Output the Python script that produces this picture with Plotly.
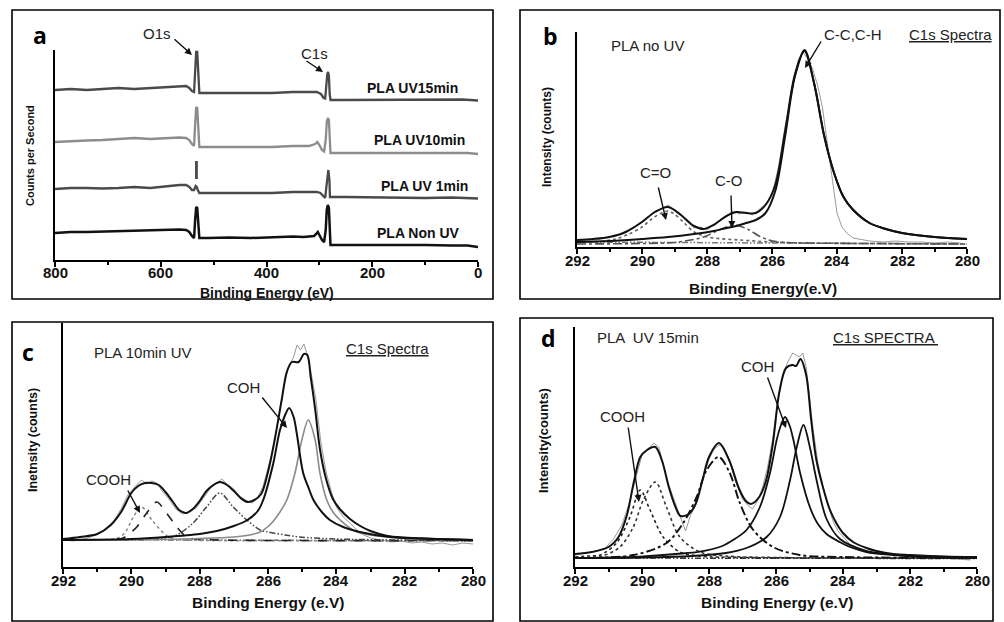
import plotly.graph_objects as go

W, H = 1004, 622

# ---------------- Panel a : survey spectra (binding energy eV, offset intensity) ----------------
a_uv15 = [(800,170),(770,171),(740,170),(710,171),(680,172),(650,171),(620,172),(590,173),(565,174),(552,174),
          (546,172),(541,169),(537,168),(535,185),(533,208),(531,208),(529,178),(527,167),(510,167),(470,167),
          (430,167.5),(390,167),(350,168),(320,168.5),(305,168),(297,166),(292,162),(289,161.5),(287,175),(285,186),
          (283.5,188),(282,184),(280.5,166),(279,160),(250,160),(200,160),(150,160.5),(100,160),(60,160.5),(30,160.5),(0,159.5)]
a_uv10 = [(800,118),(770,119),(740,119.5),(710,120),(680,121),(650,122),(620,121),(590,122),(565,122.5),(552,122),
          (546,120),(541,116),(537,114),(535,135),(533,153),(531,152),(529,125),(527,113),(510,113),(470,113),
          (430,113.5),(390,113),(350,114),(320,114),(308,116),(304,118),(300,115),(295,110),(291,108.5),(288,120),
          (286,138),(284,142),(282,140),(280.5,120),(279,107),(250,107),(200,107),(150,107.5),(100,107),(50,107.5),(20,107),(0,106)]
a_uv1 = [(800,71),(770,72),(740,72),(710,71.5),(680,72),(650,73),(620,72),(590,74),(565,75),(552,75),
         (546,73),(541,70),(537,70),(534,74),(532,73),(530,70),(527,67),(510,67),(470,67),(430,67.5),
         (390,67),(350,68),(320,68),(305,68),(298,67),(292,63),(289,62),(287,72),(285,84),(283,90),
         (281,80),(280,63),(250,63),(200,62.5),(150,62.5),(100,62),(50,62.5),(0,61.5)]
a_uv1_o1s = [(532.5,81),(532.5,99)]
a_non = [(800,27),(770,28),(740,28),(710,28.5),(680,29),(650,29),(620,30),(590,30),(565,30.5),(552,30),
         (546,28),(541,24),(537,22),(535,40),(533,53),(531,52),(529,30),(527,22),(510,22),(470,22.5),
         (430,22),(390,23),(350,23.5),(330,23),(310,24),(306,26),(303,28),(299,24),(295,20),(291,18),
         (288,30),(286,50),(284,55),(282,52),(280.5,30),(279,15),(250,15),(200,15),(150,15.5),(100,15),(50,14.5),(20,14.5),(0,13)]
a_labels = ["PLA UV15min", "PLA UV10min", "PLA UV 1min", "PLA Non UV"]
a_ticks = [800, 600, 400, 200, 0]

# ---------------- Panel b : PLA no UV, C1s ----------------
b_env = [(292.0,7),(291.5,8),(291.0,10),(290.5,15),(290.0,25),(289.6,35),(289.2,40),(288.8,32),(288.4,21),(288.1,18),
         (287.8,22),(287.4,31),(287.1,35),(286.8,34),(286.5,34),(286.2,42),(285.9,62),(285.6,115),(285.3,172),(285.0,197),
         (284.7,163),(284.4,112),(284.1,75),(283.8,50),(283.5,37),(283.0,24),(282.5,18),(282.0,14),(281.0,10),(280.0,8)]
b_cc = [(292.0,5),(291.0,6),(290.0,8),(289.2,10),(288.4,13),(287.8,16),(287.4,19),(287.1,21),(286.8,24),(286.5,27),
        (286.2,34),(285.9,56),(285.6,110),(285.3,170),(285.0,196),(284.7,163),(284.4,112),(284.1,75),(283.8,50),(283.5,37),
        (283.0,24),(282.5,18),(282.0,14),(281.0,10),(280.0,8)]
b_c_dbl_o = [(292.0,4),(291.2,6),(290.8,8),(290.4,13),(290.0,20),(289.7,28),(289.4,34),(289.2,36),(289.0,33),(288.7,24),
             (288.4,15),(288.1,11),(287.8,9),(287.0,7),(286.0,5),(285.0,4),(283.0,3.5),(280.0,3)]
b_c_o = [(292.0,3),(290.0,3.5),(289.0,4.5),(288.5,7),(288.1,10),(287.7,16),(287.4,20),(287.2,22),(287.0,21),(286.7,17),
         (286.4,11),(286.1,7),(285.8,5),(285.0,4),(283.0,3.5),(280.0,3)]
b_bg = [(292.0,5),(280.0,3)]
b_raw = [(292.0,6),(291.7,7),(291.4,7),(291.1,10),(290.8,11),(290.5,16),(290.2,21),(289.9,28),(289.6,36),(289.4,38),
         (289.2,42),(289.0,37),(288.8,31),(288.6,25),(288.4,19),(288.2,20),(288.0,17),(287.8,22),(287.6,27),(287.4,31),
         (287.2,36),(287.0,33),(286.8,35),(286.6,32),(286.4,38),(286.2,43),(286.0,52),(285.8,80),(285.6,120),(285.4,152),
         (285.2,186),(285.05,195),(284.9,188),(284.75,178),(284.6,162),(284.45,140),(284.3,105),(284.15,72),(284.0,34),(283.85,20),
         (283.7,14),(283.5,9),(283.2,7),(283.0,6),(282.6,5),(282.2,6),(281.8,5),(281.4,5),(281.0,4),(280.6,5),(280.2,4)]

# ---------------- Panel c : PLA 10 min UV, C1s ----------------
c_env = [(292.0,28),(291.5,30),(291.0,33),(290.6,42),(290.3,55),(290.0,74),(289.8,81),(289.6,84),(289.4,84),(289.2,82),
         (289.0,75),(288.8,66),(288.6,57),(288.4,54),(288.2,58),(288.0,66),(287.8,76),(287.6,82),(287.4,85),(287.2,82),
         (287.0,76),(286.8,69),(286.6,65),(286.4,67),(286.2,73),(286.0,95),(285.8,128),(285.6,167),(285.45,195),(285.3,205),
         (285.1,205),(284.95,213),(284.85,212),(284.75,190),(284.62,158),(284.48,118),(284.3,88),(284.1,68),(283.9,58),(283.6,48),
         (283.3,41),(283.0,36),(282.5,31),(282.0,29.5),(281.0,28),(280.0,27)]
c_coh = [(292.0,27),(290.0,28),(289.0,30),(288.0,33),(287.5,36),(287.0,41),(286.6,47),(286.3,56),(286.14,67),(285.85,103),
         (285.65,137),(285.5,152),(285.38,159),(285.25,150),(285.16,134),(284.97,94),(284.8,78),(284.67,67),(284.4,54),(284.19,47),
         (283.8,40),(283.31,35),(282.43,30),(281.5,28.5),(280.0,27)]
c_cc = [(292.0,27),(290.0,27),(288.0,28.5),(287.0,30),(286.54,32),(286.23,35),(285.95,42),(285.75,50),(285.45,67),(285.21,94),
        (285.01,127),(284.82,147),(284.62,127),(284.48,94),(284.28,67),(284.1,55),(283.89,47),(283.4,35),(282.43,29.7),(281.5,28),(280.0,27)]
c_cooh_a = [(292.0,27),(290.6,27.5),(290.24,29),(290.0,35),(289.84,40),(289.55,54),(289.26,65),(288.97,54),(288.67,40),(288.38,30),
            (288.1,28),(287.5,27),(280.0,26.5)]
c_cooh_b = [(292.0,27),(290.6,27.5),(290.4,29),(290.19,34),(289.94,50),(289.7,60),(289.4,47),(289.06,34),(288.8,28),(288.5,27),(280.0,26.5)]
c_c_o = [(292.0,27),(289.5,27.5),(289.0,29),(288.67,32),(288.19,44),(287.8,60),(287.41,74),(287.02,60),(286.62,47),(286.23,37),
         (286.0,35),(285.5,32),(285.07,30),(284.0,28),(282.0,27),(280.0,26.5)]
c_bg = [(292.0,27.5),(280.0,26)]
c_raw = [(292.0,27),(291.7,26),(291.4,28),(291.1,31),(290.8,36),(290.5,47),(290.3,58),(290.1,72),(289.9,80),(289.7,87),
         (289.55,83),(289.4,86),(289.25,84),(289.1,76),(288.9,68),(288.7,58),(288.5,53),(288.3,55),(288.1,59),(287.9,68),
         (287.7,78),(287.5,84),(287.35,88),(287.2,83),(287.0,78),(286.8,70),(286.6,66),(286.45,64),(286.3,70),(286.15,80),
         (286.0,100),(285.85,118),(285.7,148),(285.55,178),(285.4,200),(285.25,210),(285.15,222),(285.05,217),(284.95,223),(284.85,212),
         (284.75,196),(284.6,168),(284.45,124),(284.3,95),(284.15,76),(284.0,60),(283.8,50),(283.6,44),(283.4,37),(283.2,32),
         (283.0,29),(282.7,27),(282.4,25),(282.1,26),(281.8,24),(281.5,25),(281.2,23),(280.9,24),(280.6,22),(280.3,24),(280.0,23)]

# ---------------- Panel d : PLA UV 15 min, C1s ----------------
d_env = [(292.0,13),(291.5,15),(291.0,20),(290.7,30),(290.45,52),(290.25,84),(290.05,110),(289.85,117),(289.6,120),(289.4,106),
         (289.2,80),(289.0,60),(288.85,51),(288.6,53),(288.4,63),(288.2,86),(288.0,110),(287.7,124),(287.4,107),(287.1,78),
         (286.9,66),(286.75,63),(286.5,70),(286.3,86),(286.1,122),(285.9,175),(285.7,199),(285.5,202),(285.4,201),(285.27,208),
         (285.1,192),(284.95,147),(284.8,108),(284.6,80),(284.4,58),(284.2,44),(284.0,34),(283.7,25),(283.3,19),(283.0,16),
         (282.5,13),(282.0,12),(281.0,10.5),(280.0,10)]
d_coh = [(292.0,9),(290.26,10),(289.0,13),(288.27,15.3),(287.6,21),(287.28,27),(286.88,37),(286.48,60),(286.18,94),(285.98,127),
         (285.85,142),(285.73,150),(285.6,142),(285.48,127),(285.28,94),(284.99,60),(284.75,43),(284.49,33),(284.1,25),(283.79,20),
         (283.3,15),(282.5,12),(281.5,10),(280.0,9)]
d_cc = [(292.0,9),(290.0,9.5),(288.5,11),(287.5,14),(286.88,19),(286.28,30),(285.88,50),(285.58,87),(285.38,120),(285.18,142),
        (284.99,120),(284.79,87),(284.49,48),(284.09,28),(283.29,16),(282.5,12.5),(281.5,10.5),(280.0,10)]
d_cooh_a = [(292.0,10),(291.6,11),(291.25,12),(290.76,24),(290.36,50),(290.05,77),(289.76,57),(289.37,30),(288.87,15),(288.3,11),
            (287.0,9.5),(280.0,9)]
d_cooh_b = [(292.0,9.5),(291.2,11),(290.66,20),(290.26,40),(289.96,67),(289.6,85),(289.27,60),(288.87,30),(288.27,15),(287.5,11),
            (286.0,9.5),(280.0,9)]
d_c_o = [(292.0,9),(290.26,12),(289.27,24),(288.77,44),(288.37,70),(288.07,97),(287.71,110),(287.38,94),(287.08,64),(286.68,37),
         (286.09,20),(285.29,12),(284.0,10),(280.0,9)]
d_bg = [(292.0,9),(280.0,8.5)]
d_raw = [(292.0,12),(291.7,14),(291.4,15),(291.1,19),(290.85,28),(290.6,42),(290.4,62),(290.2,88),(290.0,112),(289.8,118),
         (289.65,124),(289.5,120),(289.35,102),(289.2,82),(289.05,68),(288.9,55),(288.8,45),(288.7,36),(288.55,52),(288.4,62),
         (288.2,86),(288.0,108),(287.85,118),(287.7,122),(287.55,119),(287.4,108),(287.2,85),(287.0,68),(286.85,62),(286.7,58),
         (286.55,66),(286.4,80),(286.25,100),(286.1,128),(285.95,165),(285.8,192),(285.65,205),(285.5,214),(285.4,212),(285.3,210),
         (285.2,214),(285.1,200),(285.0,170),(284.9,140),(284.75,104),(284.6,80),(284.45,62),(284.3,46),(284.15,36),(284.0,30),
         (283.8,23),(283.6,19),(283.4,16),(283.2,14),(283.0,13),(282.6,12),(282.2,11),(281.8,10),(281.4,8),(281.0,9),(280.6,8),(280.2,7)]
c1s_ticks = [292, 290, 288, 286, 284, 282, 280]

fig = go.Figure()

def add(axn, pts, color, width, dash="solid", shape="spline"):
    xs = [p[0] for p in pts]
    ys = [p[1] for p in pts]
    sfx = "" if axn == 1 else str(axn)
    fig.add_trace(go.Scatter(x=xs, y=ys, mode="lines",
                             line=dict(color=color, width=width, dash=dash, shape=shape, smoothing=0.9),
                             xaxis="x" + sfx, yaxis="y" + sfx, showlegend=False, hoverinfo="skip"))

DDOT = "6px,2px,1.5px,2px,1.5px,2px"

# panel a
add(1, a_uv15, "#4a4a4a", 2.3, shape="linear")
add(1, a_uv10, "#8c8c8c", 2.3, shape="linear")
add(1, a_uv1, "#4a4a4a", 2.3, shape="linear")
add(1, a_uv1_o1s, "#4a4a4a", 2.8, shape="linear")
add(1, a_non, "#111111", 2.5, shape="linear")

# panel b
add(2, b_raw, "#9a9a9a", 1.0, shape="linear")
add(2, b_bg, "#777777", 1.5, dash=DDOT, shape="linear")
add(2, b_c_dbl_o, "#666666", 1.6, dash="dot")
add(2, b_c_o, "#555555", 1.6, dash="dashdot")
add(2, b_cc, "#111111", 2.0)
add(2, b_env, "#111111", 2.0)

# panel c
add(3, c_raw, "#9a9a9a", 1.0, shape="linear")
add(3, c_bg, "#666666", 1.5, dash=DDOT, shape="linear")
add(3, c_cooh_b, "#888888", 1.5, dash="dot")
add(3, c_cooh_a, "#222222", 1.6, dash="dash")
add(3, c_c_o, "#444444", 1.5, dash=DDOT)
add(3, c_cc, "#8a8a8a", 1.6)
add(3, c_coh, "#111111", 2.0)
add(3, c_env, "#111111", 2.0)

# panel d
add(4, d_raw, "#9a9a9a", 1.0, shape="linear")
add(4, d_bg, "#333333", 1.5, dash=DDOT, shape="linear")
add(4, d_cooh_a, "#222222", 1.6, dash="dot")
add(4, d_cooh_b, "#333333", 1.6, dash="dot")
add(4, d_c_o, "#111111", 1.9, dash="dashdot")
add(4, d_cc, "#111111", 1.8)
add(4, d_coh, "#111111", 1.8)
add(4, d_env, "#111111", 2.0)

def xaxis(x0, x1, rng, tickvals, minor_dtick, anchor):
    return dict(domain=[x0 / W, x1 / W], range=rng, tickvals=tickvals, showline=True, linecolor="black",
                linewidth=2, ticks="outside", ticklen=5, tickwidth=1.5, tickcolor="black", showgrid=False,
                zeroline=False, showticklabels=False, anchor=anchor, fixedrange=True,
                minor=dict(ticks="outside", ticklen=3, tickwidth=1.5, tickcolor="black", dtick=minor_dtick, showgrid=False))

def yaxis(y_top, y_bot, ymax, anchor):
    return dict(domain=[1 - y_bot / H, 1 - y_top / H], range=[0, ymax], showline=True, linecolor="black",
                linewidth=2, ticks="", showticklabels=False, showgrid=False, zeroline=False, anchor=anchor,
                fixedrange=True)

layout = dict(
    width=W, height=H, margin=dict(l=0, r=0, t=0, b=0, autoexpand=False),
    paper_bgcolor="white", plot_bgcolor="white", showlegend=False,
    xaxis=xaxis(55, 478, [800, 0], a_ticks, 100, "y"),
    yaxis=yaxis(50, 260, 210, "x"),
    xaxis2=xaxis(577, 967, [292, 280], c1s_ticks, 1, "y2"),
    yaxis2=yaxis(32, 247, 215, "x2"),
    xaxis3=xaxis(63, 473, [292, 280], c1s_ticks, 1, "y3"),
    yaxis3=yaxis(323, 567, 244, "x3"),
    xaxis4=xaxis(575, 977, [292, 280], c1s_ticks, 1, "y4"),
    yaxis4=yaxis(327, 567, 240, "x4"),
)
fig.update_layout(**layout)

# panel borders
for (x0, y0, x1, y1) in [(12, 10, 493, 299), (520, 10, 1000, 299), (12, 322, 493, 621), (520, 318, 993, 621)]:
    fig.add_shape(type="rect", xref="paper", yref="paper", x0=x0 / W, x1=x1 / W, y0=1 - y1 / H, y1=1 - y0 / H,
                  line=dict(color="black", width=1.6))

FAM = "Liberation Sans, Arial, sans-serif"
REG = dict(family=FAM, size=15, color="#222222")
BOLD = dict(family=FAM, size=14, color="#111111", weight="bold")
TICK = dict(family=FAM, size=15, color="#111111", weight="bold")
LET = dict(family="Open Sans, sans-serif", size=23, color="black", weight="bold")

def text(px, py, s, font, angle=0):
    fig.add_annotation(x=px / W, y=1 - py / H, xref="paper", yref="paper", text=s, showarrow=False,
                       xanchor="center", yanchor="middle", font=font, textangle=angle)

def arrow(hx, hy, tx, ty):
    fig.add_annotation(x=hx / W, y=1 - hy / H, xref="paper", yref="paper", text="", showarrow=True,
                       ax=tx - hx, ay=ty - hy, arrowhead=2, arrowsize=1.0, arrowwidth=1.4, arrowcolor="#111111")

# tick labels (placed through each panel's x scale)
for axref, vals, py in [("x", a_ticks, 273), ("x2", c1s_ticks, 260), ("x3", c1s_ticks, 580), ("x4", c1s_ticks, 580)]:
    for v in vals:
        fig.add_annotation(x=v, xref=axref, y=1 - py / H, yref="paper", text=str(v), showarrow=False,
                           xanchor="center", yanchor="middle", font=TICK)

# panel letters
text(40, 35, "a", LET)
text(550, 36, "b", LET)
text(28, 352, "c", LET)
text(548, 338, "d", LET)

# axis titles
text(267, 293, "Binding Energy (eV)", dict(BOLD, size=14))
text(763, 288, "Binding Energy(e.V)", dict(BOLD, size=15.5))
text(268, 602, "Binding Energy (e.V)", dict(BOLD, size=15.5))
text(777, 602, "Binding Energy (e.V)", dict(BOLD, size=15.5))
text(30, 156, "Counts per Second", dict(BOLD, size=11), -90)
text(547, 137, "Intensity (counts)", dict(BOLD, size=12), -90)
text(33, 440, "Inetnsity (counts)", dict(BOLD, size=12.5), -90)
text(543, 441, "Intensity(counts)", dict(BOLD, size=13), -90)

# panel a labels
for (px, py), s in zip([(412, 88), (419, 140), (424, 186), (418, 233)], a_labels):
    text(px, py, s, BOLD)
text(157, 33, "O1s", REG)
text(314, 53, "C1s", REG)
arrow(192, 55, 173, 38)
arrow(323, 72, 305, 60)

# panel b labels
text(647, 45, "PLA no UV", REG)
text(853, 35, "C-C,C-H", REG)
text(950, 35, "<u>C1s Spectra</u>", REG)
text(655, 172, "C=O", REG)
text(729, 180, "C-O", REG)
arrow(805, 68, 822, 40)
arrow(666, 220, 658, 186)
arrow(732, 228, 731, 194)

# panel c labels
text(143, 352, "PLA 10min UV", REG)
text(387, 348, "<u>C1s Spectra</u>", REG)
text(243, 387, "COH", REG)
text(108, 479, "COOH", REG)
arrow(287, 428, 261, 396)
arrow(140, 513, 127, 489)

# panel d labels
text(648, 337, "PLA  UV 15min", REG)
text(885, 337, "<u>C1s SPECTRA </u>", REG)
text(757, 366, "COH", REG)
text(622, 416, "COOH", REG)
arrow(786, 428, 767, 376)
arrow(639, 502, 628, 426)

fig.write_html("out.html")
